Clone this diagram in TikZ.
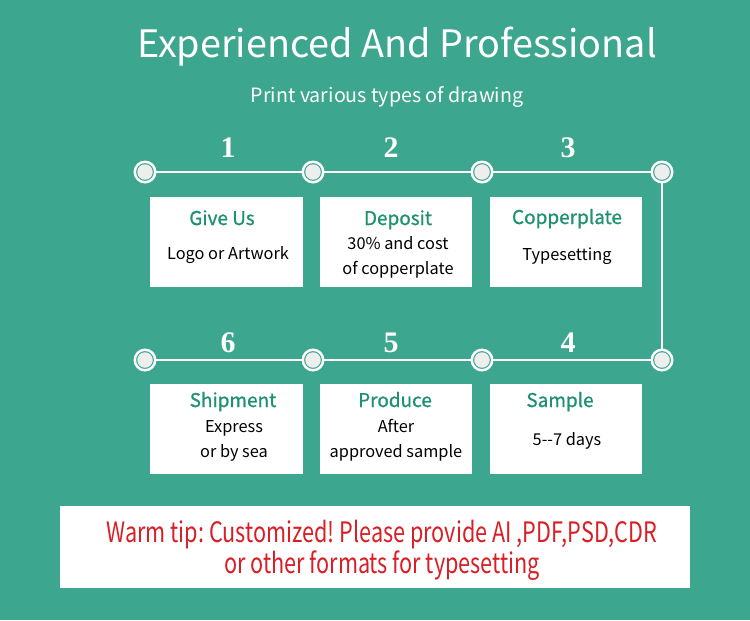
\documentclass[tikz,border=0pt]{standalone}
\usepackage{fontspec}
\setmainfont{Noto Sans CJK SC}
\newfontfamily\numfont{Liberation Serif}
\newfontfamily\headfont{Noto Sans CJK SC}[FakeBold=0.8]
\newfontfamily\tipfont{Noto Sans CJK SC}[FakeStretch=0.77]
\usepackage{xcolor}
\frenchspacing

\definecolor{bgteal}{HTML}{3CA68F}
\definecolor{headgreen}{HTML}{1F9170}
\definecolor{tipred}{HTML}{D91E26}
\definecolor{dotgray}{HTML}{EEEEEE}

\begin{document}
\begin{tikzpicture}[x=0.02cm, y=-0.02cm,
    dot/.style={circle, draw=white, line width=1.4pt, fill=bgteal, minimum size=0.41cm, inner sep=0pt,
        path picture={\fill[dotgray] (path picture bounding box.center) circle (0.155cm);}},
    link/.style={draw=white, line width=0.8pt},
    card/.style={fill=white, minimum width=3.06cm, minimum height=1.8cm, inner sep=0pt},
    head/.style={anchor=base, text=headgreen, font=\headfont\fontsize{10.8}{13}\selectfont},
    body/.style={anchor=base, text=black, align=center, font=\fontsize{9.3}{13.8}\selectfont},
    num/.style={anchor=base, text=white, font=\numfont\bfseries\fontsize{17}{20}\selectfont}]

    % Background
    \fill[bgteal] (0,0) rectangle (750,620);

    % Heading
    \node[anchor=base, text=white, font=\fontsize{21.5}{26}\selectfont] (title) at (397,57) {Experienced And Professional};
    \node[anchor=base, text=white, font=\fontsize{11.2}{14}\selectfont] (subtitle) at (387,102) {Print various types of drawing};

    % Circles
    \node[dot] (c1) at (145,172) {};
    \node[dot] (c2) at (313,172) {};
    \node[dot] (c3) at (482,172) {};
    \node[dot] (c4) at (662,172) {};
    \node[dot] (c5) at (662,360) {};
    \node[dot] (c6) at (482,360) {};
    \node[dot] (c7) at (313,360) {};
    \node[dot] (c8) at (145,360) {};

    % Lines
    \draw[link] (c1) -- (c2);
    \draw[link] (c2) -- (c3);
    \draw[link] (c3) -- (c4);
    \draw[link] (c4) -- (c5);
    \draw[link] (c5) -- (c6);
    \draw[link] (c6) -- (c7);
    \draw[link] (c7) -- (c8);

    % Step numbers
    \node[num] (n1) at (228,157) {1};
    \node[num] (n2) at (391,157) {2};
    \node[num] (n3) at (568,157) {3};
    \node[num] (n4) at (568,352) {4};
    \node[num] (n5) at (391,352) {5};
    \node[num] (n6) at (228,352) {6};

    % Step boxes
    \node[card] (b1) at (226.5,242) {};
    \node[card] (b2) at (396,242) {};
    \node[card] (b3) at (566,242) {};
    \node[card] (b6) at (226.5,428.5) {};
    \node[card] (b5) at (396,428.5) {};
    \node[card] (b4) at (566,428.5) {};

    % Box texts (multi-line texts sit on their last baseline)
    \node[head] (h1) at (222,225) {Give Us};
    \node[body] (t1) at (228,259) {Logo or Artwork};
    \node[head] (h2) at (398,225) {Deposit};
    \node[body] (t2) at (398,274) {30\% and cost\\of copperplate};
    \node[head] (h3) at (567,224) {Copperplate};
    \node[body] (t3) at (567,260) {Typesetting};
    \node[head] (h6) at (233,407) {Shipment};
    \node[body] (t6) at (234,457) {Express\\or by sea};
    \node[head] (h5) at (395,407) {Produce};
    \node[body] (t5) at (396,457) {After\\approved sample};
    \node[head] (h4) at (560,407) {Sample};
    \node[body] (t4) at (567,445) {5-{}-7 days};

    % Warm tip
    \node[fill=white, minimum width=12.6cm, minimum height=1.64cm, inner sep=0pt] (tipbox) at (375,547) {};
    \node[anchor=base, text=tipred, align=center, font=\tipfont\fontsize{16}{17.5}\selectfont] (tip) at (382,573)
        {Warm tip: Customized! Please provide AI ,PDF,PSD,CDR\\or other formats for typesetting};
\end{tikzpicture}
\end{document}
